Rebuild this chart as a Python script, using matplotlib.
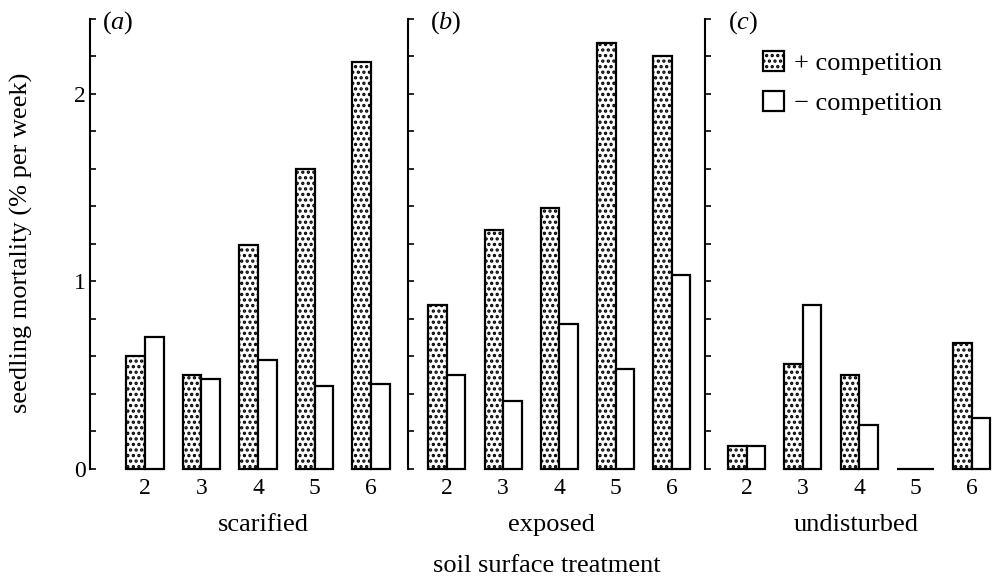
import numpy as np
import matplotlib
matplotlib.use('Agg')
import matplotlib.pyplot as plt

plt.rcParams['font.family'] = ['Liberation Serif', 'DejaVu Serif']
plt.rcParams['mathtext.fontset'] = 'custom'
plt.rcParams['mathtext.rm'] = 'Liberation Serif'
plt.rcParams['mathtext.it'] = 'Liberation Serif:italic'
plt.rcParams['hatch.linewidth'] = 1.6

# seedling mortality (% per week) for soil treatments 2..6
groups = [2, 3, 4, 5, 6]
scarified_plus = [0.60, 0.50, 1.19, 1.60, 2.17]
scarified_minus = [0.70, 0.48, 0.58, 0.44, 0.45]
exposed_plus = [0.87, 1.27, 1.39, 2.27, 2.20]
exposed_minus = [0.50, 0.36, 0.77, 0.53, 1.03]
undisturbed_plus = [0.12, 0.56, 0.50, 0.0, 0.67]
undisturbed_minus = [0.12, 0.87, 0.23, 0.0, 0.27]

panel_tags = ['($a$)', '($b$)', '($c$)']
panel_names = ['scarified', 'exposed', 'undisturbed']
plus_values = [scarified_plus, exposed_plus, undisturbed_plus]
minus_values = [scarified_minus, exposed_minus, undisturbed_minus]

# axes rectangles (figure fraction), x limits, tag offset, name position
rects = [[0.0906, 0.1908, 0.3122, 0.7772],
         [0.4109, 0.1908, 0.2941, 0.7772],
         [0.7100, 0.1908, 0.2900, 0.7772]]
xlims = [(1.03, 6.51), (1.31, 6.50), (1.26, 6.38)]
tag_dx = [8.6, 15.8, 16.5]
name_x = [4.1, 3.85, 3.95]

w = 0.33
x = np.array(groups)
yticks = np.round(np.arange(0, 2.41, 0.2), 1)

fig = plt.figure(figsize=(9.93, 5.79), dpi=100)

for i in range(3):
    ax = fig.add_axes(rects[i])
    ax.patch.set_visible(False)
    b1 = ax.bar(x - w / 2, plus_values[i], w, facecolor='white', edgecolor='black',
                hatch='...', linewidth=1.6, clip_on=False)
    b2 = ax.bar(x + w / 2, minus_values[i], w, facecolor='white', edgecolor='black',
                linewidth=1.6, clip_on=False)
    ax.set_xlim(*xlims[i])
    ax.set_ylim(0, 2.4)
    for s in ['top', 'right', 'bottom']:
        ax.spines[s].set_visible(False)
    ax.spines['left'].set_linewidth(1.5)

    ax.set_yticks(yticks)
    if i == 0:
        ax.set_yticklabels([str(int(t)) if t in (0, 1, 2) else '' for t in yticks])
    else:
        ax.tick_params(axis='y', labelleft=False)
    ax.tick_params(axis='y', direction='in', length=4.3, width=1.2, labelsize=17, pad=3)
    ax.set_xticks(groups)
    ax.tick_params(axis='x', length=0, labelsize=17, pad=7)

    ax.annotate(panel_tags[i], xy=(0, 1), xycoords='axes fraction',
                xytext=(tag_dx[i], -3), textcoords='offset points',
                ha='left', va='center', fontsize=19)
    ax.text(name_x[i], -0.125, panel_names[i], transform=ax.get_xaxis_transform(),
            ha='center', va='center', fontsize=19)

    if i == 2:
        ax.legend([b1, b2], ['+ competition', '\u2212 competition'],
                  loc='upper left', bbox_to_anchor=(763 / 993, 1 - 51 / 579),
                  bbox_transform=fig.transFigure, frameon=False, fontsize=19,
                  handlelength=0.78, handleheight=0.78, handletextpad=0.4,
                  labelspacing=0.6, borderpad=0, borderaxespad=0)

fig.text(21 / 993, 1 - 243 / 579, 'seedling mortality (% per week)', rotation=90,
         ha='center', va='center', fontsize=19)
fig.text(547 / 993, 1 - 566 / 579, 'soil surface treatment',
         ha='center', va='center', fontsize=19)

fig.savefig('out.png', dpi=100)
